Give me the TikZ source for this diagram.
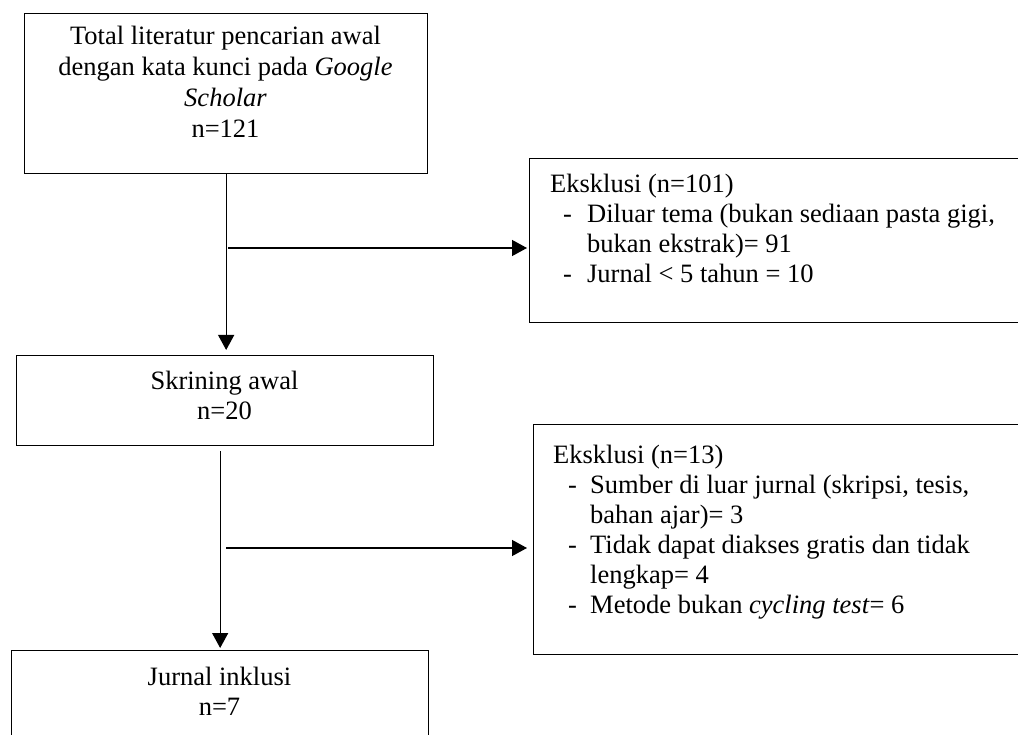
\documentclass[tikz,border=0pt]{standalone}
\usepackage{fontspec}
\setmainfont{Liberation Serif}
\usetikzlibrary{arrows.meta}
\begin{document}
\begin{tikzpicture}[x=1pt,y=-1pt,
  box/.style={draw, line width=1.3pt, rectangle, inner sep=0pt, anchor=north west},
  txt/.style={inner sep=0pt, font=\fontsize{26.5}{30}\selectfont},
  arr/.style={line width=1.3pt, -{Triangle[length=15pt,width=16pt]}}]
\useasboundingbox (0,0) rectangle (1018,735);
\fill[white] (0,0) rectangle (1018,735);
% boxes
\node[box, minimum width=403pt, minimum height=160pt] (b1) at (24,13) {};
\node[box, minimum width=500pt, minimum height=164pt] (e1) at (529,158) {};
\node[box, minimum width=417pt, minimum height=90pt] (b2) at (16,355) {};
\node[box, minimum width=500pt, minimum height=230pt] (e2) at (533,424) {};
\node[box, minimum width=417pt, minimum height=100pt] (b3) at (11,650) {};
% texts
\node[txt, anchor=base] (t1) at (225.5,45) {\begin{tabular}[t]{@{}c@{}}Total literatur pencarian awal\\[1pt] dengan kata kunci pada \textit{Google}\\[1pt] \textit{Scholar}\\[1pt] n=121\end{tabular}};
\node[txt, anchor=base] (t2) at (224.5,390) {\begin{tabular}[t]{@{}c@{}}Skrining awal\\ n=20\end{tabular}};
\node[txt, anchor=base] (t3) at (219.5,685) {\begin{tabular}[t]{@{}c@{}}Jurnal inklusi\\ n=7\end{tabular}};
\node[txt, anchor=base west] (t4) at (550,193) {\begin{tabular}[t]{@{}l@{}}Eksklusi (n=101)\\
\hspace*{13pt}\makebox[24pt][l]{-}Diluar tema (bukan sediaan pasta gigi,\\
\hspace*{37pt}bukan ekstrak)= 91\\
\hspace*{13pt}\makebox[24pt][l]{-}Jurnal < 5 tahun = 10\end{tabular}};
\node[txt, anchor=base west] (t5) at (553,463) {\begin{tabular}[t]{@{}l@{}}Eksklusi (n=13)\\
\hspace*{15pt}\makebox[22pt][l]{-}Sumber di luar jurnal (skripsi, tesis,\\
\hspace*{37pt}bahan ajar)= 3\\
\hspace*{15pt}\makebox[22pt][l]{-}Tidak dapat diakses gratis dan tidak\\
\hspace*{37pt}lengkap= 4\\
\hspace*{15pt}\makebox[22pt][l]{-}Metode bukan \textit{cycling test}= 6\end{tabular}};
% connectors
\draw[arr, shorten >=5pt] (b1.south) -- (b1.south |- b2.north);
\coordinate (h1) at (228,248);
\draw[arr, shorten >=2pt] (h1) -- (h1 -| e1.west);
\draw[arr, shorten <=5pt, shorten >=2pt] (b3.north |- b2.south) -- (b3.north);
\coordinate (h2) at (226,548);
\draw[arr, shorten >=6pt] (h2) -- (h2 -| e2.west);
\end{tikzpicture}
\end{document}
